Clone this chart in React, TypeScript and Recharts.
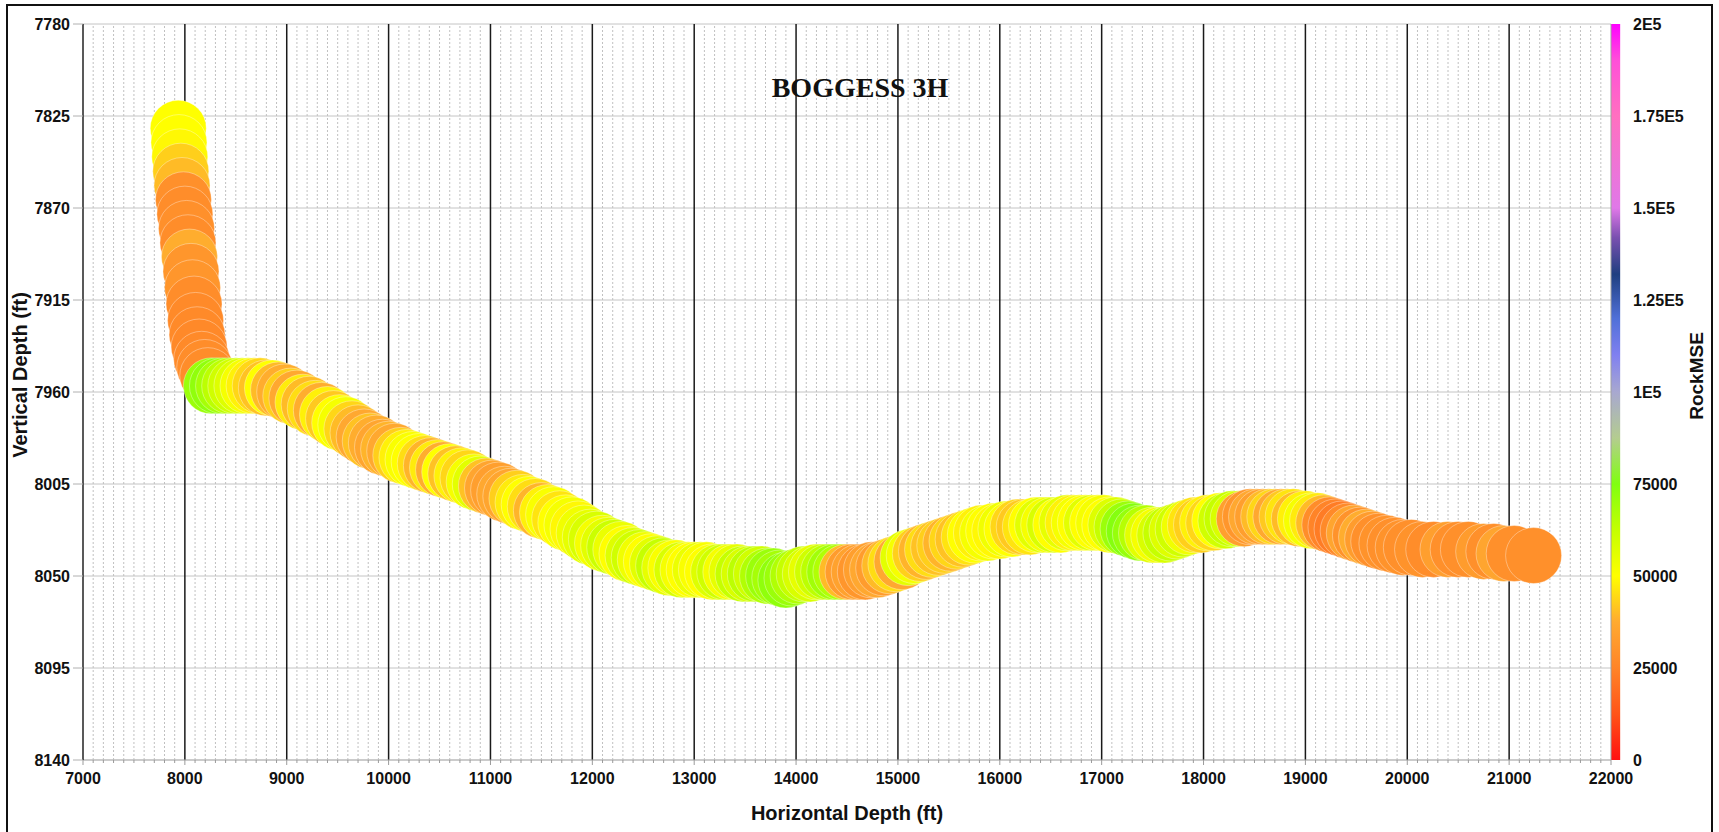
import React from 'react';
import { ScatterChart, Scatter, XAxis, YAxis, CartesianGrid, ReferenceLine, ReferenceArea } from 'recharts';

// ---------------- data ----------------
// Build section (near-vertical part of the well)
const VERT_MD = [7935, 7942, 7950, 7960, 7972, 7986, 8000, 8016, 8030, 8045, 8060, 8075, 8090, 8105, 8120, 8140, 8165, 8195, 8225];
const VERT_TVD = [7831, 7838, 7845, 7852, 7859, 7866, 7873, 7880, 7887, 7894, 7901, 7909, 7917, 7925, 7932, 7938, 7944, 7948, 7952];
const VERT_MSE = [50000, 50000, 49000, 43000, 40000, 29000, 28000, 29000, 28000, 38000, 31000, 31000, 28000, 27000, 27000, 26500, 27000, 28000, 28000];

// Lateral section
const LAT_MD = [
  8260, 8320, 8380, 8440, 8500, 8560, 8620, 8680, 8740, 8800,
  8860, 8920, 8980, 9040, 9100, 9160, 9220, 9280, 9340, 9400,
  9460, 9520, 9580, 9640, 9700, 9760, 9820, 9880, 9940, 10000,
  10060, 10120, 10180, 10240, 10300, 10360, 10420, 10480, 10540, 10600,
  10660, 10720, 10780, 10840, 10900, 10960, 11020, 11080, 11140, 11200,
  11260, 11320, 11380, 11440, 11500, 11560, 11620, 11680, 11740, 11800,
  11860, 11920, 11980, 12040, 12100, 12160, 12220, 12280, 12340, 12400,
  12460, 12520, 12580, 12640, 12700, 12760, 12820, 12880, 12940, 13000,
  13060, 13120, 13180, 13240, 13300, 13360, 13420, 13480, 13540, 13600,
  13660, 13720, 13780, 13840, 13900, 13960, 14020, 14080, 14140, 14200,
  14260, 14320, 14380, 14440, 14500, 14560, 14620, 14680, 14740, 14800,
  14860, 14920, 14980, 15040, 15100, 15160, 15220, 15280, 15340, 15400,
  15460, 15520, 15580, 15640, 15700, 15760, 15820, 15880, 15940, 16000,
  16060, 16120, 16180, 16240, 16300, 16360, 16420, 16480, 16540, 16600,
  16660, 16720, 16780, 16840, 16900, 16960, 17020, 17080, 17140, 17200,
  17260, 17320, 17380, 17440, 17500, 17560, 17620, 17680, 17740, 17800,
  17860, 17920, 17980, 18040, 18100, 18160, 18220, 18280, 18340, 18400,
  18460, 18520, 18580, 18640, 18700, 18760, 18820, 18880, 18940, 19000,
  19060, 19120, 19180, 19240, 19300, 19360, 19420, 19480, 19540, 19600,
  19660, 19720, 19800, 19880, 19960, 20040, 20150, 20260, 20400, 20500,
  20600, 20750, 20850, 20950, 21050, 21240,
];
const LAT_TVD = [
  7957, 7957, 7957, 7957, 7957, 7957, 7957, 7957, 7957, 7958,
  7958, 7959, 7960, 7962, 7963, 7965, 7966, 7968, 7969, 7971,
  7973, 7975, 7976, 7978, 7980, 7982, 7984, 7985, 7987, 7988,
  7989, 7991, 7992, 7993, 7994, 7995, 7996, 7997, 7998, 7999,
  8000, 8001, 8002, 8004, 8005, 8006, 8007, 8008, 8010, 8011,
  8012, 8014, 8015, 8016, 8018, 8019, 8020, 8022, 8024, 8025,
  8027, 8029, 8031, 8032, 8034, 8035, 8036, 8037, 8039, 8040,
  8041, 8042, 8043, 8044, 8045, 8046, 8046, 8047, 8047, 8047,
  8047, 8047, 8048, 8048, 8048, 8048, 8048, 8049, 8049, 8049,
  8049, 8050, 8050, 8051, 8052, 8051, 8050, 8049, 8049, 8048,
  8048, 8048, 8048, 8048, 8048, 8048, 8048, 8048, 8047, 8047,
  8046, 8045, 8044, 8043, 8041, 8040, 8039, 8038, 8037, 8036,
  8035, 8034, 8033, 8032, 8031, 8030, 8029, 8029, 8028, 8028,
  8027, 8027, 8026, 8026, 8026, 8025, 8025, 8025, 8025, 8025,
  8024, 8024, 8024, 8024, 8024, 8024, 8024, 8025, 8025, 8026,
  8027, 8028, 8029, 8029, 8030, 8030, 8030, 8029, 8028, 8027,
  8026, 8025, 8025, 8024, 8024, 8023, 8023, 8022, 8022, 8022,
  8021, 8021, 8021, 8021, 8021, 8021, 8021, 8021, 8022, 8022,
  8023, 8023, 8024, 8025, 8026, 8027, 8028, 8029, 8030, 8031,
  8032, 8033, 8034, 8035, 8036, 8036, 8037, 8037, 8037, 8037,
  8037, 8038, 8038, 8039, 8039, 8040,
];
const LAT_MSE = [
  70000, 72000, 68000, 64000, 60000, 57000, 52000, 48000, 44000, 41000,
  50000, 40000, 38000, 43000, 37000, 47000, 40000, 45000, 38000, 48000,
  42000, 50000, 52000, 44000, 40000, 37000, 41000, 38000, 36000, 39000,
  37000, 43000, 48000, 51000, 50000, 45000, 39000, 47000, 38000, 50000,
  41000, 48000, 44000, 52000, 56000, 41000, 36000, 34000, 37000, 36000,
  43000, 47000, 50000, 45000, 39000, 48000, 51000, 46000, 50000, 52000,
  49000, 53000, 55000, 58000, 52000, 56000, 61000, 54000, 50000, 57000,
  60000, 53000, 50000, 56000, 62000, 55000, 51000, 58000, 52000, 50000,
  54000, 51000, 50000, 57000, 60000, 52000, 55000, 62000, 58000, 64000,
  60000, 66000, 70000, 68000, 72000, 70000, 66000, 62000, 58000, 55000,
  60000, 64000, 69000, 66000, 40000, 33000, 35000, 31000, 34000, 37000,
  33000, 40000, 45000, 37000, 56000, 52000, 43000, 39000, 45000, 41000,
  43000, 39000, 44000, 41000, 46000, 50000, 48000, 52000, 50000, 49000,
  53000, 50000, 44000, 42000, 46000, 50000, 56000, 52000, 58000, 50000,
  55000, 48000, 52000, 50000, 56000, 50000, 52000, 50000, 57000, 62000,
  70000, 74000, 71000, 65000, 56000, 52000, 58000, 62000, 57000, 60000,
  53000, 46000, 43000, 48000, 44000, 50000, 60000, 62000, 58000, 34000,
  31000, 37000, 34000, 40000, 44000, 37000, 42000, 46000, 40000, 48000,
  52000, 47000, 40000, 28000, 25000, 23000, 27000, 36000, 30000, 38000,
  33000, 29000, 30000, 29000, 30000, 29000, 30000, 28000, 34000, 29000,
  29000, 33000, 29000, 36000, 29000, 29000,
];

// Axis ticks and labels
const X_MAJOR_TICKS = [7000, 8000, 9000, 10000, 11000, 12000, 13000, 14000, 15000, 16000, 17000, 18000, 19000, 20000, 21000, 22000];
const X_MINOR_STEP = 100;
const Y_TICKS = [7780, 7825, 7870, 7915, 7960, 8005, 8050, 8095, 8140];
const CB_TICKS = [0, 25000, 50000, 75000, 100000, 125000, 150000, 175000, 200000];
const CB_TICK_LABELS = ['0', '25000', '50000', '75000', '1E5', '1.25E5', '1.5E5', '1.75E5', '2E5'];
const CB_MAX = 200000;

// Colour map for RockMSE
const MSE_STOPS: [number, string][] = [
  [0, '#ff1010'],
  [12500, '#ff5418'],
  [25000, '#ff8428'],
  [37500, '#ffaa30'],
  [50000, '#ffff00'],
  [62500, '#c4ff00'],
  [75000, '#80ff10'],
  [87500, '#b4cc90'],
  [100000, '#a8a8d0'],
  [110000, '#8080f0'],
  [120000, '#5070d8'],
  [132000, '#1f3f80'],
  [142000, '#7a50b0'],
  [150000, '#e078e8'],
  [175000, '#ff70c0'],
  [190000, '#ff50d8'],
  [200000, '#ff00ff'],
];

// --------------- helpers ---------------
const hexToRgb = (h: string) => [parseInt(h.slice(1, 3), 16), parseInt(h.slice(3, 5), 16), parseInt(h.slice(5, 7), 16)];
function mseColor(v: number): string {
  if (v <= MSE_STOPS[0][0]) return MSE_STOPS[0][1];
  for (let i = 1; i < MSE_STOPS.length; i++) {
    const [v1, c1] = MSE_STOPS[i];
    const [v0, c0] = MSE_STOPS[i - 1];
    if (v <= v1) {
      const t = (v - v0) / (v1 - v0);
      const a = hexToRgb(c0);
      const b = hexToRgb(c1);
      const m = a.map((x, k) => Math.round(x + (b[k] - x) * t));
      return `rgb(${m[0]},${m[1]},${m[2]})`;
    }
  }
  return MSE_STOPS[MSE_STOPS.length - 1][1];
}

const points = [
  ...VERT_MD.map((md, i) => ({ md, tvd: VERT_TVD[i], mse: VERT_MSE[i] })),
  ...LAT_MD.map((md, i) => ({ md, tvd: LAT_TVD[i], mse: LAT_MSE[i] })),
];

const X_ALL_TICKS: number[] = [];
for (let v = X_MAJOR_TICKS[0]; v <= X_MAJOR_TICKS[X_MAJOR_TICKS.length - 1]; v += X_MINOR_STEP) X_ALL_TICKS.push(v);
const X_MINOR_TICKS = X_ALL_TICKS.filter((v) => v % 1000 !== 0);

const FONT = '"Liberation Sans", Arial, Helvetica, sans-serif';
const BUBBLE_R = 28;

const Bubble = (props: any) => {
  const { cx, cy, payload } = props;
  if (cx == null || cy == null) return null;
  return (
    <circle cx={cx} cy={cy} r={BUBBLE_R} fill={mseColor(payload.mse)} stroke="rgba(255,255,255,0.35)" strokeWidth={1} />
  );
};

const XTick = (p: any) => {
  const { x, y, payload } = p;
  const v = payload.value;
  const major = v % 1000 === 0;
  return (
    <g>
      <line x1={x} x2={x} y1={y} y2={y + (major ? 5 : 3)} stroke="#9a9a9a" strokeWidth={1} />
      {major ? (
        <text x={x} y={y + 24} textAnchor="middle" fontSize={16} fontWeight={700} fontFamily={FONT} fill="#111">
          {v}
        </text>
      ) : null}
    </g>
  );
};

const YTick = (p: any) => {
  const { x, y, payload } = p;
  return (
    <g>
      <line x1={x - 10} x2={x} y1={y} y2={y} stroke="#b0b0b0" strokeWidth={1} />
      <text x={x - 13} y={y + 6} textAnchor="end" fontSize={16} fontWeight={700} fontFamily={FONT} fill="#111">
        {payload.value}
      </text>
    </g>
  );
};

const CbTick = (p: any) => {
  const { x, y, payload } = p;
  const idx = CB_TICKS.indexOf(payload.value);
  return (
    <text x={x + 22} y={y + 6} textAnchor="start" fontSize={16} fontWeight={700} fontFamily={FONT} fill="#111">
      {CB_TICK_LABELS[idx]}
    </text>
  );
};

export default function App() {
  return (
    <div style={{ position: 'absolute', left: 0, top: 0, width: 1719, height: 832, overflow: 'hidden', background: '#fff' }}>
      <svg width={0} height={0} style={{ position: 'absolute' }}>
        <defs>
          <linearGradient id="rockmseGrad" x1="0" y1="1" x2="0" y2="0">
            {MSE_STOPS.map(([v, c]) => (
              <stop key={v} offset={v / CB_MAX} stopColor={c} />
            ))}
          </linearGradient>
        </defs>
      </svg>
      <div style={{ position: 'absolute', left: 0, top: 0 }}>
        <ScatterChart width={1719} height={832} margin={{ top: 24, right: 8, bottom: 10, left: 23 }}>
          <CartesianGrid vertical={false} stroke="#c4c4c4" strokeWidth={1} />
          {X_MINOR_TICKS.map((v) => (
            <ReferenceLine key={'m' + v} x={v} stroke="#c0c0c0" strokeWidth={1} strokeDasharray="2 2" />
          ))}
          {X_MAJOR_TICKS.slice(1, -1).map((v) => (
            <ReferenceLine key={'M' + v} x={v} stroke="#1a1a1a" strokeWidth={1.5} />
          ))}
          <ReferenceLine x={X_MAJOR_TICKS[X_MAJOR_TICKS.length - 1]} stroke="#a0a0a0" strokeWidth={1} />
          <XAxis
            type="number"
            dataKey="md"
            domain={[7000, 22000]}
            ticks={X_ALL_TICKS}
            interval={0}
            height={62}
            tickSize={0}
            tickMargin={0}
            tickLine={false}
            tick={(p: any) => <XTick {...p} />}
            axisLine={{ stroke: '#b5b5b5' }}
          />
          <YAxis
            type="number"
            dataKey="tvd"
            domain={[7780, 8140]}
            reversed
            ticks={Y_TICKS}
            interval={0}
            width={60}
            tickSize={0}
            tickMargin={0}
            tickLine={false}
            tick={(p: any) => <YTick {...p} />}
            axisLine={{ stroke: '#222', strokeWidth: 1.5 }}
          />
          <YAxis
            yAxisId="cb"
            orientation="right"
            type="number"
            domain={[0, CB_MAX]}
            allowDataOverflow
            ticks={CB_TICKS}
            interval={0}
            width={100}
            tickSize={0}
            tickMargin={0}
            tickLine={false}
            axisLine={false}
            tick={(p: any) => <CbTick {...p} />}
          />
          <ReferenceArea
            yAxisId="cb"
            x1={22000}
            x2={22090}
            y1={0}
            y2={CB_MAX}
            ifOverflow="visible"
            fill="url(#rockmseGrad)"
            fillOpacity={1}
            stroke="none"
          />
          <Scatter data={points} isAnimationActive={false} shape={(p: any) => <Bubble {...p} />} />
        </ScatterChart>
      </div>
      <svg width={1719} height={832} style={{ position: 'absolute', left: 0, top: 0, pointerEvents: 'none' }}>
        <text x={860} y={97} textAnchor="middle" fontSize={28} fontWeight={700} fontFamily='"Liberation Serif", "Times New Roman", serif' fill="#111">
          BOGGESS 3H
        </text>
        <text x={847} y={820} textAnchor="middle" fontSize={20} fontWeight={700} fontFamily={FONT} fill="#111">
          Horizontal Depth (ft)
        </text>
        <text x={20} y={375} transform="rotate(-90 20 375)" textAnchor="middle" dominantBaseline="central" fontSize={20} fontWeight={700} fontFamily={FONT} fill="#111">
          Vertical Depth (ft)
        </text>
        <text x={1696} y={376} transform="rotate(-90 1696 376)" textAnchor="middle" dominantBaseline="central" fontSize={19} fontWeight={700} fontFamily={FONT} fill="#111">
          RockMSE
        </text>
      </svg>
      <div
        style={{
          position: 'absolute',
          left: 6,
          top: 4,
          width: 1707,
          height: 828,
          boxSizing: 'border-box',
          borderTop: '2px solid #111',
          borderLeft: '2px solid #111',
          borderRight: '2px solid #111',
          pointerEvents: 'none',
        }}
      />
    </div>
  );
}
